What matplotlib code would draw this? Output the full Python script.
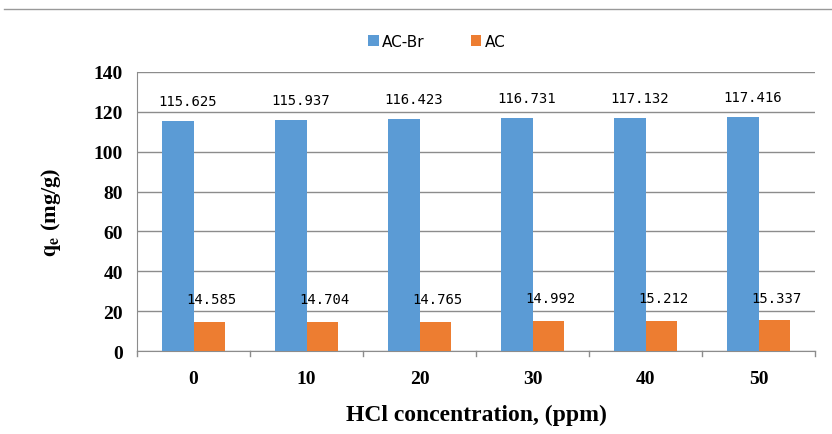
import numpy as np
import matplotlib.pyplot as plt
from matplotlib.lines import Line2D

categories = ['0', '10', '20', '30', '40', '50']
ac_br = [115.625, 115.937, 116.423, 116.731, 117.132, 117.416]
ac = [14.585, 14.704, 14.765, 14.992, 15.212, 15.337]
yticks = [0, 20, 40, 60, 80, 100, 120, 140]

blue = '#5b9bd5'
orange = '#ed7d31'
grid_c = '#8c8c8c'

plt.rcParams['mathtext.fontset'] = 'stix'

fig = plt.figure(figsize=(8.32, 4.35), dpi=100)
ax = fig.add_axes([0.1647, 0.1908, 0.815, 0.6414])

x = np.arange(len(categories))
w = 0.28
ax.bar(x - w / 2, ac_br, w, color=blue, label='AC-Br', zorder=3)
ax.bar(x + w / 2, ac, w, color=orange, label='AC', zorder=3)

# data labels
for i in range(len(categories)):
    ax.text(x[i] - 0.05, ac_br[i] + 10, f'{ac_br[i]:.3f}', ha='center', va='center',
            fontsize=10, family='DejaVu Sans Mono', color='black')
    ax.text(x[i] + w / 2 + 0.02, ac[i] + 11.5, f'{ac[i]:.3f}', ha='center', va='center',
            fontsize=10, family='DejaVu Sans Mono', color='black')

ax.set_xlim(-0.5, len(categories) - 0.5)
ax.set_ylim(0, 140)
ax.set_yticks(yticks)
ax.set_yticklabels([str(v) for v in yticks], family='Liberation Serif',
                   fontweight='bold', fontsize=14)
ax.set_xticks(x)
ax.set_xticklabels(categories, family='Liberation Serif', fontweight='bold', fontsize=14)
ax.tick_params(axis='y', length=0, pad=10)
ax.tick_params(axis='x', length=0, pad=14)
# boundary ticks on x axis
for b in np.arange(-0.5, len(categories), 1.0):
    ax.plot([b, b], [0, -2.5], color=grid_c, lw=1, clip_on=False, zorder=2)

ax.grid(axis='y', color=grid_c, lw=1, zorder=0)
for s in ['top', 'right']:
    ax.spines[s].set_visible(False)
ax.spines['left'].set_color(grid_c)
ax.spines['bottom'].set_color(grid_c)

ax.set_ylabel(r'$\mathbf{q_e}$ (mg/g)', family='Liberation Serif', fontweight='bold',
              fontsize=16, labelpad=22)
ax.set_xlabel('HCl concentration, (ppm)', family='Liberation Serif', fontweight='bold',
              fontsize=17, labelpad=12)

fig.legend(loc='center', bbox_to_anchor=(0.525, 0.903), ncol=2, frameon=False,
           handlelength=0.7, handleheight=0.7, handletextpad=0.2, columnspacing=3,
           prop={'family': 'Liberation Sans Narrow', 'size': 11})

fig.add_artist(Line2D([0.005, 1.0], [0.977, 0.977], color='#999999', lw=1))

fig.savefig('out.png', dpi=100)
